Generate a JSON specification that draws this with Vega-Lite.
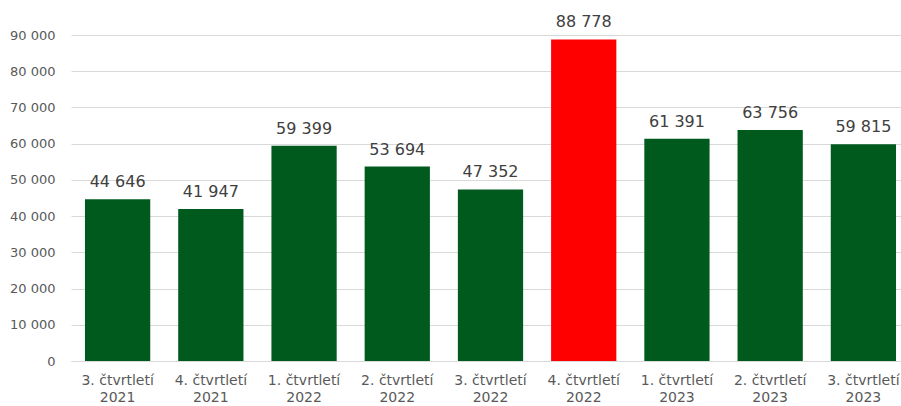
{
  "$schema": "https://vega.github.io/schema/vega-lite/v6.json",
  "width": 839,
  "height": 326,
  "autosize": {"type": "none"},
  "padding": {"left": 71, "top": 35, "right": 0, "bottom": 45},
  "background": "white",
  "config": {
    "view": {"stroke": null},
    "font": "DejaVu Sans",
    "locale": {
      "number": {"decimal": ",", "thousands": " ", "grouping": [3], "currency": ["", " Kč"]}
    }
  },
  "data": {
    "values": [
      {"kvartal": "3. čtvrtletí 2021", "hodnota": 44646, "zvyraznit": "ne"},
      {"kvartal": "4. čtvrtletí 2021", "hodnota": 41947, "zvyraznit": "ne"},
      {"kvartal": "1. čtvrtletí 2022", "hodnota": 59399, "zvyraznit": "ne"},
      {"kvartal": "2. čtvrtletí 2022", "hodnota": 53694, "zvyraznit": "ne"},
      {"kvartal": "3. čtvrtletí 2022", "hodnota": 47352, "zvyraznit": "ne"},
      {"kvartal": "4. čtvrtletí 2022", "hodnota": 88778, "zvyraznit": "ano"},
      {"kvartal": "1. čtvrtletí 2023", "hodnota": 61391, "zvyraznit": "ne"},
      {"kvartal": "2. čtvrtletí 2023", "hodnota": 63756, "zvyraznit": "ne"},
      {"kvartal": "3. čtvrtletí 2023", "hodnota": 59815, "zvyraznit": "ne"}
    ]
  },
  "encoding": {
    "x": {
      "field": "kvartal",
      "type": "nominal",
      "sort": null,
      "scale": {"paddingInner": 0.3, "paddingOuter": 0.15},
      "axis": {
        "title": null,
        "labelAngle": 0,
        "labelExpr": "[substring(datum.label, 0, lastindexof(datum.label, ' ')), substring(datum.label, lastindexof(datum.label, ' ') + 1)]",
        "labelFontSize": 14,
        "labelColor": "#595959",
        "labelLineHeight": 17,
        "labelPadding": 12,
        "ticks": false,
        "domainColor": "#d9d9d9",
        "domainWidth": 1
      }
    },
    "y": {
      "field": "hodnota",
      "type": "quantitative",
      "scale": {"domain": [0, 90000], "nice": false},
      "axis": {
        "title": null,
        "values": [0, 10000, 20000, 30000, 40000, 50000, 60000, 70000, 80000, 90000],
        "format": ",.0f",
        "labelFontSize": 13,
        "labelColor": "#595959",
        "labelPadding": 16,
        "ticks": false,
        "domain": false,
        "gridColor": "#d9d9d9",
        "gridWidth": 1
      }
    }
  },
  "layer": [
    {
      "mark": {"type": "bar"},
      "encoding": {
        "color": {
          "field": "zvyraznit",
          "type": "nominal",
          "scale": {"domain": ["ne", "ano"], "range": ["#005A1E", "#FF0000"]},
          "legend": null
        }
      }
    },
    {
      "mark": {"type": "text", "baseline": "bottom", "dy": -9, "fontSize": 16, "color": "#404040"},
      "encoding": {
        "text": {"field": "hodnota", "type": "quantitative", "format": ",.0f"}
      }
    }
  ]
}
